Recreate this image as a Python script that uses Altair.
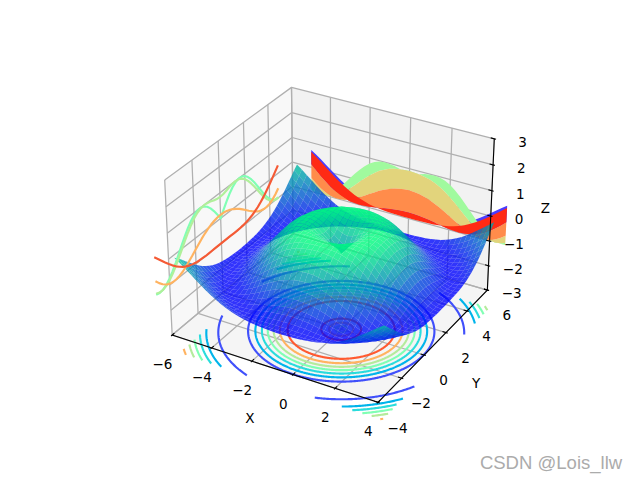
import numpy as np
import pandas as pd
import altair as alt

alt.data_transformers.disable_max_rows()

# ---- values ----
X_TICKS = [-6, -4, -2, 0, 2, 4]
Y_TICKS = [-4, -2, 0, 2, 4, 6]
Z_TICKS = [-3, -2, -1, 0, 1, 2, 3]
XLIM = (-6, 4)
YLIM = (-4, 6)
ZLIM = (-3, 3)
GRID = [-5 + 0.25 * i for i in range(40)]

# height of the surface against the distance from its centre
RADIUS = [0.0, 0.25, 0.5, 0.75, 1.0, 1.25, 1.5, 1.75, 2.0, 2.25, 2.5, 2.75, 3.0, 3.25, 3.5,
          3.75, 4.0, 4.25, 4.5, 4.75, 5.0, 5.25, 5.5, 5.75, 6.0, 6.25, 6.5, 6.75, 7.0, 7.25]
HEIGHT = [0.0, 0.247, 0.479, 0.682, 0.841, 0.949, 0.997, 0.984, 0.909, 0.778, 0.598, 0.382,
          0.141, -0.108, -0.351, -0.572, -0.757, -0.895, -0.978, -0.999, -0.959, -0.859,
          -0.706, -0.508, -0.279, -0.033, 0.215, 0.451, 0.657, 0.823]

# floor contours: colour and radii of each ring
RING_COLORS = ["#4050fb", "#00b4eb", "#2adcdc", "#80ffb4", "#b4eb9c", "#ffb360", "#ff5a30"]
RING_RADII = [[3.98, 5.25], [3.67, 5.76], [3.39, 6.03], [3.14, 6.28],
              [2.89, 6.53, 0.25], [2.62, 6.81, 0.52], [2.29, 7.13, 0.85]]

# left wall contours
WALL_X = [0, 1, 3, 4.6]
WALL_X_COLORS = ["#80ffb4", "#b0f09a", "#ffb360", "#f55a35"]

# back wall filled bands, in drawing order
BAND_LOW = [1, 2, 3, 4]
BAND_HIGH = [2, 3, 4, 4.85]
BAND_COLORS = ["#a0fa9e", "#e2d47c", "#ff8c4b", "#ff2a14"]
BAND_EDGE = "#4a3cff"

TICK_COLOR = "#000000"
GRID_COLOR = "#b0b0b0"
W, H = 640, 480
VIEW_CX, VIEW_CY, VIEW_HALF = 333.0, 229.0, 193.0

# ---- 3D view ----
ASPECT = np.array([4.0, 4.0, 3.0])
BOX = ASPECT * 1.8294640721620434 * 25 / 24 / np.linalg.norm(ASPECT)
EL, AZ = np.radians(30), np.radians(-60)
DIST = 10.0
R0 = BOX / 2
EYE = R0 + DIST * np.array([np.cos(EL) * np.cos(AZ), np.cos(EL) * np.sin(AZ), np.sin(EL)])
w_ = (EYE - R0) / np.linalg.norm(EYE - R0)
u_ = np.cross([0, 0, 1.0], w_)
u_ /= np.linalg.norm(u_)
v_ = np.cross(w_, u_)


def project(x, y, z):
    p = np.array([(x - XLIM[0]) / (XLIM[1] - XLIM[0]),
                  (y - YLIM[0]) / (YLIM[1] - YLIM[0]),
                  (z - ZLIM[0]) / (ZLIM[1] - ZLIM[0])]) * BOX - EYE
    d = -np.dot(w_, p)
    xs = np.dot(u_, p) / d
    ys = np.dot(v_, p) / d
    return VIEW_CX + VIEW_HALF * xs / 0.095, VIEW_CY - VIEW_HALF * ys / 0.095, d


def height(x, y):
    return float(np.interp(np.hypot(x, y), RADIUS, HEIGHT))


def winter(t):
    return "#%02x%02x%02x" % (0, int(round(255 * t)), int(round(255 * (1 - t / 2))))


def feature(points, color):
    ring = [[round(float(a), 2), round(float(b), 2)] for a, b, _ in points]
    ring.append(ring[0])
    return {"type": "Feature", "properties": {"color": color},
            "geometry": {"type": "Polygon", "coordinates": [ring]}}


def shapes(features, opacity=1.0):
    return alt.Chart(alt.Data(values=features)).mark_geoshape(
        stroke="transparent", strokeWidth=0, opacity=opacity
    ).encode(color=alt.Color("properties.color:N", scale=None)).project(
        type="identity", scale=1, translate=[0, 0])


PX = alt.X("px:Q", scale=alt.Scale(domain=[0, W], range=[0, W]), axis=None)
PY = alt.Y("py:Q", scale=alt.Scale(domain=[0, H], range=[0, H]), axis=None)


class Lines:
    def __init__(self):
        self.rows = []
        self.n = 0

    def add(self, pts, color):
        self.n += 1
        for i, (x, y, z) in enumerate(pts):
            a, b, _ = project(x, y, z)
            self.rows.append({"px": round(float(a), 2), "py": round(float(b), 2),
                              "id": self.n, "i": i, "c": color})

    def chart(self, width, opacity=1.0):
        return alt.Chart(pd.DataFrame(self.rows)).mark_line(
            strokeWidth=width, opacity=opacity, strokeCap="butt", strokeJoin="round"
        ).encode(x=PX, y=PY, detail="id:N", order=alt.Order("i:Q"),
                 color=alt.Color("c:N", scale=None))


# panes
x0, x1, y0, y1, z0, z1 = XLIM[0], XLIM[1], YLIM[0], YLIM[1], ZLIM[0], ZLIM[1]
panes = shapes([
    feature([project(x0, y0, z0), project(x0, y1, z0), project(x0, y1, z1), project(x0, y0, z1)], "#f8f8f8"),
    feature([project(x0, y1, z0), project(x1, y1, z0), project(x1, y1, z1), project(x0, y1, z1)], "#f2f2f2"),
    feature([project(x0, y0, z0), project(x1, y0, z0), project(x1, y1, z0), project(x0, y1, z0)], "#f5f5f5"),
])

# grid
grid = Lines()
for t in X_TICKS:
    grid.add([(t, y0, z0), (t, y1, z0), (t, y1, z1)], GRID_COLOR)
for t in Y_TICKS:
    grid.add([(x1, t, z0), (x0, t, z0), (x0, t, z1)], GRID_COLOR)
for t in Z_TICKS:
    grid.add([(x0, y0, t), (x0, y1, t), (x1, y1, t)], GRID_COLOR)

# back wall bands at y = 6
band_features = []
for low, high, col in zip([4], [5], [BAND_EDGE]):
    top = [(x, y1, height(x, high)) for x in GRID]
    bot = [(x, y1, height(x, low)) for x in reversed(GRID)]
    band_features.append(feature([project(*p) for p in top + bot], col))
for low, high, col in zip(BAND_LOW, BAND_HIGH, BAND_COLORS):
    top = [(x, y1, height(x, high)) for x in GRID]
    bot = [(x, y1, height(x, low)) for x in reversed(GRID)]
    band_features.append(feature([project(*p) for p in top + bot], col))
bands = shapes(band_features)

# floor rings
rings = Lines()
thetas = [np.radians(a / 2) for a in range(0, 721)]
for color, radii in zip(RING_COLORS, RING_RADII):
    for r in radii:
        seg = []
        for th in thetas:
            x, y = r * np.cos(th), r * np.sin(th)
            if -5 <= x <= 4.75 and -5 <= y <= 4.75:
                seg.append((x, y, z0))
            else:
                if len(seg) > 1:
                    rings.add(seg, color)
                seg = []
        if len(seg) > 1:
            rings.add(seg, color)

# surface
faces = []
n = len(GRID)
Z = [[height(x, y) for y in GRID] for x in GRID]
zmin = min(min(r) for r in Z)
zmax = max(max(r) for r in Z)
for i in range(n - 1):
    for j in range(n - 1):
        corners = [(GRID[i], GRID[j], Z[i][j]), (GRID[i + 1], GRID[j], Z[i + 1][j]),
                   (GRID[i + 1], GRID[j + 1], Z[i + 1][j + 1]), (GRID[i], GRID[j + 1], Z[i][j + 1])]
        pts = [project(*c) for c in corners]
        avg = sum(c[2] for c in corners) / 4
        depth = sum(p[2] for p in pts) / 4
        faces.append((depth, feature(pts, winter((avg - zmin) / (zmax - zmin)))))
faces.sort(key=lambda f: -f[0])
surface = shapes([f[1] for f in faces], opacity=0.8)

# left wall curves at x = -6
wall = Lines()
for k, col in zip(WALL_X, WALL_X_COLORS):
    wall.add([(x0, y, height(k, y)) for y in GRID], col)

# axes and ticks
axes = Lines()
axes.add([(x0, y0, z0), (x1, y0, z0), (x1, y1, z0), (x1, y1, z1)], TICK_COLOR)
for t in X_TICKS:
    axes.add([(t, y0 - 0.083, z0), (t, y0 + 0.167, z0)], TICK_COLOR)
for t in Y_TICKS:
    axes.add([(x1 + 0.083, t, z0), (x1 - 0.167, t, z0)], TICK_COLOR)
for t in Z_TICKS:
    axes.add([(x1 + 0.083, y1, t), (x1 - 0.167, y1, t)], TICK_COLOR)


def label_text(v):
    return str(v).replace("-", "\u2212")


labels = []
for t in X_TICKS:
    a, b, _ = project(t, y0, z0)
    labels.append({"px": a - 10, "py": b + 31, "t": label_text(t)})
for t in Y_TICKS:
    a, b, _ = project(x1, t, z0)
    labels.append({"px": a + 20, "py": b + 27, "t": label_text(t)})
for t in Z_TICKS:
    a, b, _ = project(x1, y1, t)
    labels.append({"px": a + (25 if t < 0 else 29), "py": b + 4, "t": label_text(t)})
a, b, _ = project((x0 + x1) / 2, y0, z0)
labels.append({"px": a - 23, "py": b + 53, "t": "X"})
a, b, _ = project(x1, (y0 + y1) / 2, z0)
labels.append({"px": a + 42, "py": b + 41, "t": "Y"})
a, b, _ = project(x1, y1, 0)
labels.append({"px": a + 56, "py": b - 7, "t": "Z"})

texts = alt.Chart(pd.DataFrame(labels)).mark_text(
    font="DejaVu Sans", fontSize=13.9, color="#000000", align="center", baseline="middle"
).encode(x=PX, y=PY, text="t:N")

mark = alt.Chart(pd.DataFrame([{"px": 484, "py": 460.5, "t": "CSDN @Lois_llw"}])).mark_text(
    font="Liberation Sans", fontSize=19, color="#ababab", align="left", baseline="middle"
).encode(x=PX, y=PY, text="t:N")

chart = alt.layer(
    panes, grid.chart(1.3), bands, rings.chart(2.2), surface, wall.chart(2.2),
    axes.chart(1.1), texts, mark
).properties(
    width=W, height=H, padding=0, autosize=alt.AutoSizeParams(type="none")
).configure_view(stroke=None)

chart.save("out.html", embed_options={"renderer": "svg", "actions": False})
